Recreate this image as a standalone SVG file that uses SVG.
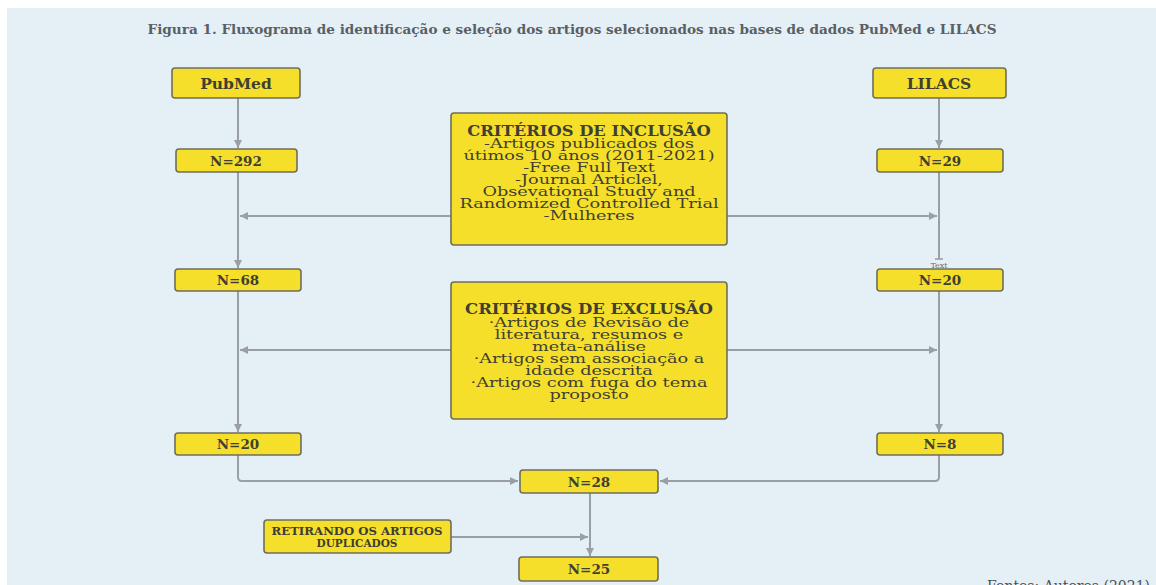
<svg xmlns="http://www.w3.org/2000/svg" width="1156" height="585" viewBox="0 0 1156 585">
<defs>
<style>
.bg{fill:#e4f0f6}
.box{fill:#f6df2a;stroke:#6e6e5c;stroke-width:1.6}
.t{font-family:"DejaVu Serif","Liberation Serif",serif;font-weight:bold;fill:#3f3f32;text-anchor:middle}
.n{font-size:13.5px}
.c{font-family:"DejaVu Serif","Liberation Serif",serif;fill:#3f3f32;text-anchor:middle;font-size:13.5px}
.ln{fill:none;stroke:#9a9fa5;stroke-width:2}
</style>
<marker id="ah" viewBox="0 0 10 10" refX="10" refY="5" markerWidth="10" markerHeight="8" markerUnits="userSpaceOnUse" orient="auto">
<path d="M0,0 L10,5 L0,10 z" fill="#9a9fa5"/>
</marker>
<marker id="bar" viewBox="0 0 10 10" refX="5" refY="5" markerWidth="8" markerHeight="8" markerUnits="userSpaceOnUse" orient="auto">
<path d="M5,0 L5,10" stroke="#9a9fa5" stroke-width="2"/>
</marker>
</defs>
<rect x="0" y="0" width="1156" height="585" fill="#ffffff"/>
<rect class="bg" x="7" y="8" width="1149" height="577"/>
<text x="572" y="34" font-family="DejaVu Serif, Liberation Serif, serif" font-weight="bold" font-size="12.5" fill="#5a5f65" text-anchor="middle" textLength="849" lengthAdjust="spacingAndGlyphs">Figura 1. Fluxograma de identificação e seleção dos artigos selecionados nas bases de dados PubMed e LILACS</text>

<g id="connectors">
<path class="ln" d="M238,98 V148" marker-end="url(#ah)"/>
<path class="ln" d="M238,172 V268" marker-end="url(#ah)"/>
<path class="ln" d="M238,291 V432" marker-end="url(#ah)"/>
<path class="ln" d="M939,98 V148" marker-end="url(#ah)"/>
<path class="ln" d="M939,172 V259" marker-end="url(#bar)"/>
<path class="ln" d="M939,291 V432" marker-end="url(#ah)"/>
<path class="ln" d="M451,216 H240" marker-end="url(#ah)"/>
<path class="ln" d="M727,216 H937" marker-end="url(#ah)"/>
<path class="ln" d="M451,350 H240" marker-end="url(#ah)"/>
<path class="ln" d="M727,350 H937" marker-end="url(#ah)"/>
<path class="ln" d="M238,455 V477 Q238,481 242,481 H518" marker-end="url(#ah)"/>
<path class="ln" d="M939,455 V477 Q939,481 935,481 H660" marker-end="url(#ah)"/>
<path class="ln" d="M590,493 V556" marker-end="url(#ah)"/>
<path class="ln" d="M451,537 H588" marker-end="url(#ah)"/>
<text x="939" y="268" font-family="DejaVu Serif, serif" font-size="8" fill="#6a7077" text-anchor="middle">Text</text>
</g>

<g id="pubmed">
<rect class="box" x="172" y="68" width="128" height="30" rx="3"/>
<text class="t" x="236" y="88.5" font-size="15.5">PubMed</text>
</g>
<g id="lilacs">
<rect class="box" x="873" y="68" width="133" height="30" rx="3"/>
<text class="t" x="939" y="88.5" font-size="15.5">LILACS</text>
</g>
<g id="n292">
<rect class="box" x="176" y="149" width="121" height="23" rx="3"/>
<text class="t n" x="236" y="165.5">N=292</text>
</g>
<g id="n29">
<rect class="box" x="877" y="149" width="126" height="23" rx="3"/>
<text class="t n" x="940" y="165.5">N=29</text>
</g>
<g id="inclusao">
<rect class="box" x="451" y="113" width="276" height="132" rx="3"/>
<text class="t" transform="translate(589 0) scale(1.17 1)" x="0" y="136" font-size="14">CRITÉRIOS DE INCLUSÃO</text>
<g transform="translate(589 0) scale(1.31 1)">
<text class="c" x="0" y="148">-Artigos publicados dos</text>
<text class="c" x="0" y="160">útimos 10 anos (2011-2021)</text>
<text class="c" x="0" y="172">-Free Full Text</text>
<text class="c" x="0" y="184">-Journal Articlel,</text>
<text class="c" x="0" y="196">Obsevational Study and</text>
<text class="c" x="0" y="208">Randomized Controlled Trial</text>
<text class="c" x="0" y="220">-Mulheres</text>
</g>
</g>
<g id="n68">
<rect class="box" x="175" y="269" width="126" height="22" rx="3"/>
<text class="t n" x="238" y="285">N=68</text>
</g>
<g id="n20r">
<rect class="box" x="877" y="269" width="126" height="22" rx="3"/>
<text class="t n" x="940" y="285">N=20</text>
</g>
<g id="exclusao">
<rect class="box" x="451" y="282" width="276" height="137" rx="3"/>
<text class="t" transform="translate(589 0) scale(1.18 1)" x="0" y="314" font-size="14">CRITÉRIOS DE EXCLUSÃO</text>
<g transform="translate(589 0) scale(1.31 1)">
<text class="c" x="0" y="327">·Artigos de Revisão de</text>
<text class="c" x="0" y="339">literatura, resumos e</text>
<text class="c" x="0" y="351">meta-análise</text>
<text class="c" x="0" y="363">·Artigos sem associação a</text>
<text class="c" x="0" y="375">idade descrita</text>
<text class="c" x="0" y="387">·Artigos com fuga do tema</text>
<text class="c" x="0" y="399">proposto</text>
</g>
</g>
<g id="n20l">
<rect class="box" x="175" y="433" width="126" height="22" rx="3"/>
<text class="t n" x="238" y="449">N=20</text>
</g>
<g id="n8">
<rect class="box" x="877" y="433" width="126" height="22" rx="3"/>
<text class="t n" x="940" y="449">N=8</text>
</g>
<g id="n28">
<rect class="box" x="520" y="470" width="138" height="23" rx="3"/>
<text class="t n" x="589" y="486.5">N=28</text>
</g>
<g id="retirando">
<rect class="box" x="264" y="520" width="187" height="33" rx="3"/>
<text class="t" x="357" y="535" font-size="10.5" textLength="171" lengthAdjust="spacingAndGlyphs">RETIRANDO OS ARTIGOS</text>
<text class="t" x="357" y="546.5" font-size="10.5">DUPLICADOS</text>
</g>
<g id="n25">
<rect class="box" x="519" y="557" width="139" height="24" rx="3"/>
<text class="t n" x="589" y="574">N=25</text>
</g>
<text x="987" y="591" font-family="DejaVu Serif, serif" font-size="14" fill="#4a4f55">Fontes: Autores (2021)</text>
</svg>
